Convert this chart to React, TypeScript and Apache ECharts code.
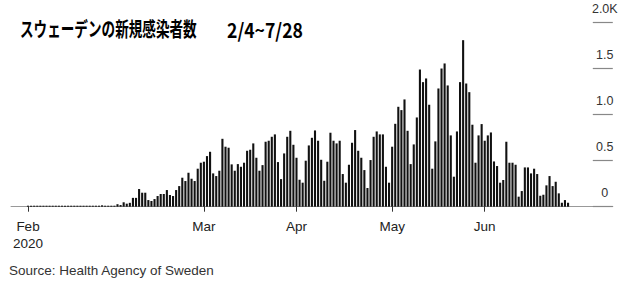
import React, { useEffect, useRef } from "react";
import * as echarts from "echarts";

// Daily new cases, Feb 4 .. Jul 28 (176 days)
const cases: number[] = [
  1, 1, 1, 1, 1, 1, 1, 1, 1, 1, 1, 1, 1, 1, 1, 1, 1, 1, 1, 1, 1, 1, 1, 1,
  15, 2, 2, 3, 8, 27, 18, 48, 33, 42, 96, 96, 192, 152, 152, 72, 62, 83, 116, 138,
  138, 181, 127, 116, 181, 224, 315, 279, 369, 304, 279, 413, 478, 489, 550, 597,
  362, 333, 391, 738, 652, 641, 460, 391, 463, 434, 478, 608, 619, 688, 532, 391,
  452, 706, 717, 760, 786, 485, 300, 579, 760, 825, 673, 532, 293, 261, 500, 666,
  749, 829, 717, 510, 282, 489, 804, 717, 688, 717, 355, 261, 456, 695, 833, 608,
  532, 398, 203, 507, 760, 818, 786, 786, 434, 261, 652, 901, 1086, 1050, 1166, 825,
  463, 677, 970, 1491, 1354, 1394, 1108, 413, 710, 1285, 1502, 1557, 1318, 775, 326, 818,
  1354, 1810, 1339, 1245, 891, 478, 775, 898, 717, 775, 807, 492, 442, 261, 290, 706,
  478, 478, 456, 109, 170, 427, 427, 362, 413, 355, 119, 130, 232, 333, 224, 271,
  145, 43, 72, 43,
];

const xTickIndex: number[] = [0, 57, 87, 118, 148];
const xTickLabels: string[] = ["Feb\n2020", "Mar", "Apr", "May", "Jun"];
const yTickValues: number[] = [0, 500, 1000, 1500, 2000];
const yTickLabels: string[] = ["0", "0.5", "1.0", "1.5", "2.0K"];

const titleJa = "スウェーデンの新規感染者数";
const titleRange = "2/4~7/28";
const sourceText = "Source: Health Agency of Sweden";

const PAD_LEFT = 5;
const PAD_RIGHT = 14;

export default function App() {
  const ref = useRef<HTMLDivElement>(null);
  useEffect(() => {
    if (!ref.current) return;
    const chart = echarts.init(ref.current, undefined, { renderer: "svg" });
    const total = PAD_LEFT + cases.length + PAD_RIGHT;
    const cats: string[] = [];
    for (let k = 0; k < total; k++) cats.push("c" + k);
    const data: (number | string)[] = [];
    for (let k = 0; k < PAD_LEFT; k++) data.push("-");
    cases.forEach((v) => data.push(v));
    for (let k = 0; k < PAD_RIGHT; k++) data.push("-");
    const tickMap = new Map<number, string>();
    xTickIndex.forEach((d, j) => tickMap.set(d + PAD_LEFT, xTickLabels[j]));
    const yMap = new Map<number, string>();
    yTickValues.forEach((v, j) => yMap.set(v, yTickLabels[j]));
    const step = 3.086;
    const gridLeft = 28 - (PAD_LEFT + 0.5) * step;
    const gridWidth = total * step;

    chart.setOption({
      animation: false,
      grid: {
        left: gridLeft,
        width: gridWidth,
        top: 22.7,
        bottom: 284 - 206.7,
        containLabel: false,
      },
      xAxis: {
        type: "category",
        data: cats,
        boundaryGap: true,
        axisLine: { show: true, lineStyle: { color: "#999", width: 1 } },
        axisTick: {
          show: true,
          alignWithLabel: true,
          length: 5,
          lineStyle: { color: "#333", width: 1 },
          interval: (idx: number) => tickMap.has(idx),
        },
        axisLabel: {
          show: true,
          interval: (idx: number) => tickMap.has(idx),
          formatter: (_v: string, idx: number) => tickMap.get(idx) || "",
          color: "#222",
          fontFamily: "Liberation Sans",
          fontSize: 13.5,
          lineHeight: 16.6,
          margin: 12,
          align: "center",
        },
        splitLine: { show: false },
      },
      yAxis: {
        type: "value",
        position: "right",
        min: 0,
        max: 2000,
        interval: 500,
        axisLine: { show: false },
        axisTick: {
          show: true,
          inside: true,
          length: 20,
          lineStyle: { color: "#888", width: 1.2 },
        },
        axisLabel: {
          show: true,
          inside: true,
          margin: 8,
          align: "center",
          verticalAlign: "bottom",
          padding: [0, 0, 7, 0],
          formatter: (v: number) => yMap.get(v) ?? "",
          color: "#333",
          fontFamily: "Liberation Sans",
          fontSize: 12.5,
        },
        splitLine: { show: false },
      },
      series: [
        {
          type: "bar",
          data,
          barWidth: 2.1,
          barMinHeight: 1,
          itemStyle: { color: "#111" },
        },
      ],
      graphic: [
        {
          type: "text",
          x: 20,
          y: 28.5,
          scaleX: 0.68,
          style: {
            text: titleJa,
            fontFamily: "Noto Sans CJK JP",
            fontWeight: "bold",
            fontSize: 20,
            fill: "#000",
            verticalAlign: "middle",
          },
        },
        {
          type: "text",
          x: 227,
          y: 28.5,
          scaleX: 0.88,
          style: {
            text: titleRange,
            fontFamily: "Noto Sans CJK JP",
            fontWeight: "bold",
            fontSize: 20,
            fill: "#000",
            verticalAlign: "middle",
          },
        },
        {
          type: "text",
          x: 9,
          y: 270,
          style: {
            text: sourceText,
            fontFamily: "Liberation Sans",
            fontSize: 13.5,
            fill: "#333",
            verticalAlign: "middle",
          },
        },
      ],
    });
    return () => chart.dispose();
  }, []);
  return <div ref={ref} style={{ width: 630, height: 284, position: "absolute", left: 0, top: 0 }} />;
}
